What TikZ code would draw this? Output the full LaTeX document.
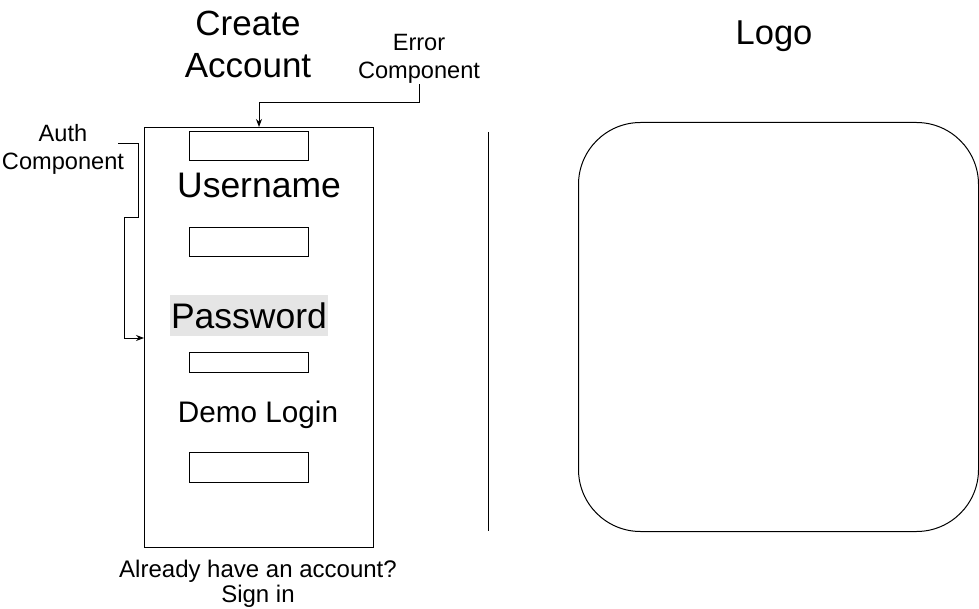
\documentclass[tikz,border=0pt]{standalone}
\usepackage{fontspec}
\setmainfont{Liberation Sans}
\usetikzlibrary{arrows.meta}
\begin{document}
\begin{tikzpicture}[x=1pt,y=-1pt,
  line width=1pt,
  frame/.style={draw=black, fill=white, inner sep=0pt},
  field/.style={draw=black, fill=white, minimum width=119pt, inner sep=0pt},
  lbl/.style={inner sep=0pt, align=center, text=black},
  big/.style={lbl, font=\fontsize{35.5}{42}\selectfont},
  mid/.style={lbl, font=\fontsize{29.7}{35}\selectfont},
  small/.style={lbl, font=\fontsize{23.6}{28}\selectfont},
  note/.style={lbl, font=\fontsize{24}{25}\selectfont},
  arr/.style={-{Stealth[length=8pt,width=6pt]}, line width=1pt}]
\useasboundingbox (0,0) rectangle (979,609);

% main form box
\node[frame, minimum width=229pt, minimum height=420pt, anchor=north west] (main) at (144,127) {};

% input fields
\node[field, minimum height=29pt] (f1) at (248.5,146.5) {};
\node[field, minimum height=29pt] (f2) at (248.5,242.5) {};
\node[field, minimum height=20pt] (f3) at (248.5,362) {};
\node[field, minimum height=30pt] (f4) at (248.5,467) {};

% labels in the form
\node[big] (user) at (259,185) {Username};
\node[big, fill=black!10, minimum width=158pt, minimum height=41pt] (pass) at (249,315.5) {Password};
\node[mid] (demo) at (258,415) {Demo Login};

% titles
\node[lbl, font=\fontsize{35}{42}\selectfont] (title) at (248,44) {Create\\Account};
\node[lbl, font=\fontsize{34.5}{40}\selectfont] (logo) at (774,36) {Logo};

% annotation labels
\node[small] (err) at (419,59) {Error\\Component};
\node[small] (auth) at (63,149) {Auth\\Component};

% bottom note
\node[note] (signin) at (258,584) {Already have an account?\\Sign in};

% divider
\coordinate (d1) at (488,132);
\coordinate (d2) at (488,531);
\draw (d1) -- (d2);

% logo box
\node[draw=black, fill=white, rounded corners=62pt, minimum width=400pt, minimum height=409pt, anchor=north west, inner sep=0pt] (logobox) at (578,122) {};

% connectors
\coordinate (eb) at (259,103);
\draw[arr] (err.south) |- (eb) -- (main.north);

\coordinate (a0) at (118,144);
\coordinate (a1) at (138,144);
\coordinate (a2) at (138,218);
\coordinate (a3) at (124,218);
\coordinate (a4) at (124,338);
\draw[arr] (a0) -- (a1) -- (a2) -- (a3) -- (a4) -- (main.west |- a4);
\end{tikzpicture}
\end{document}
